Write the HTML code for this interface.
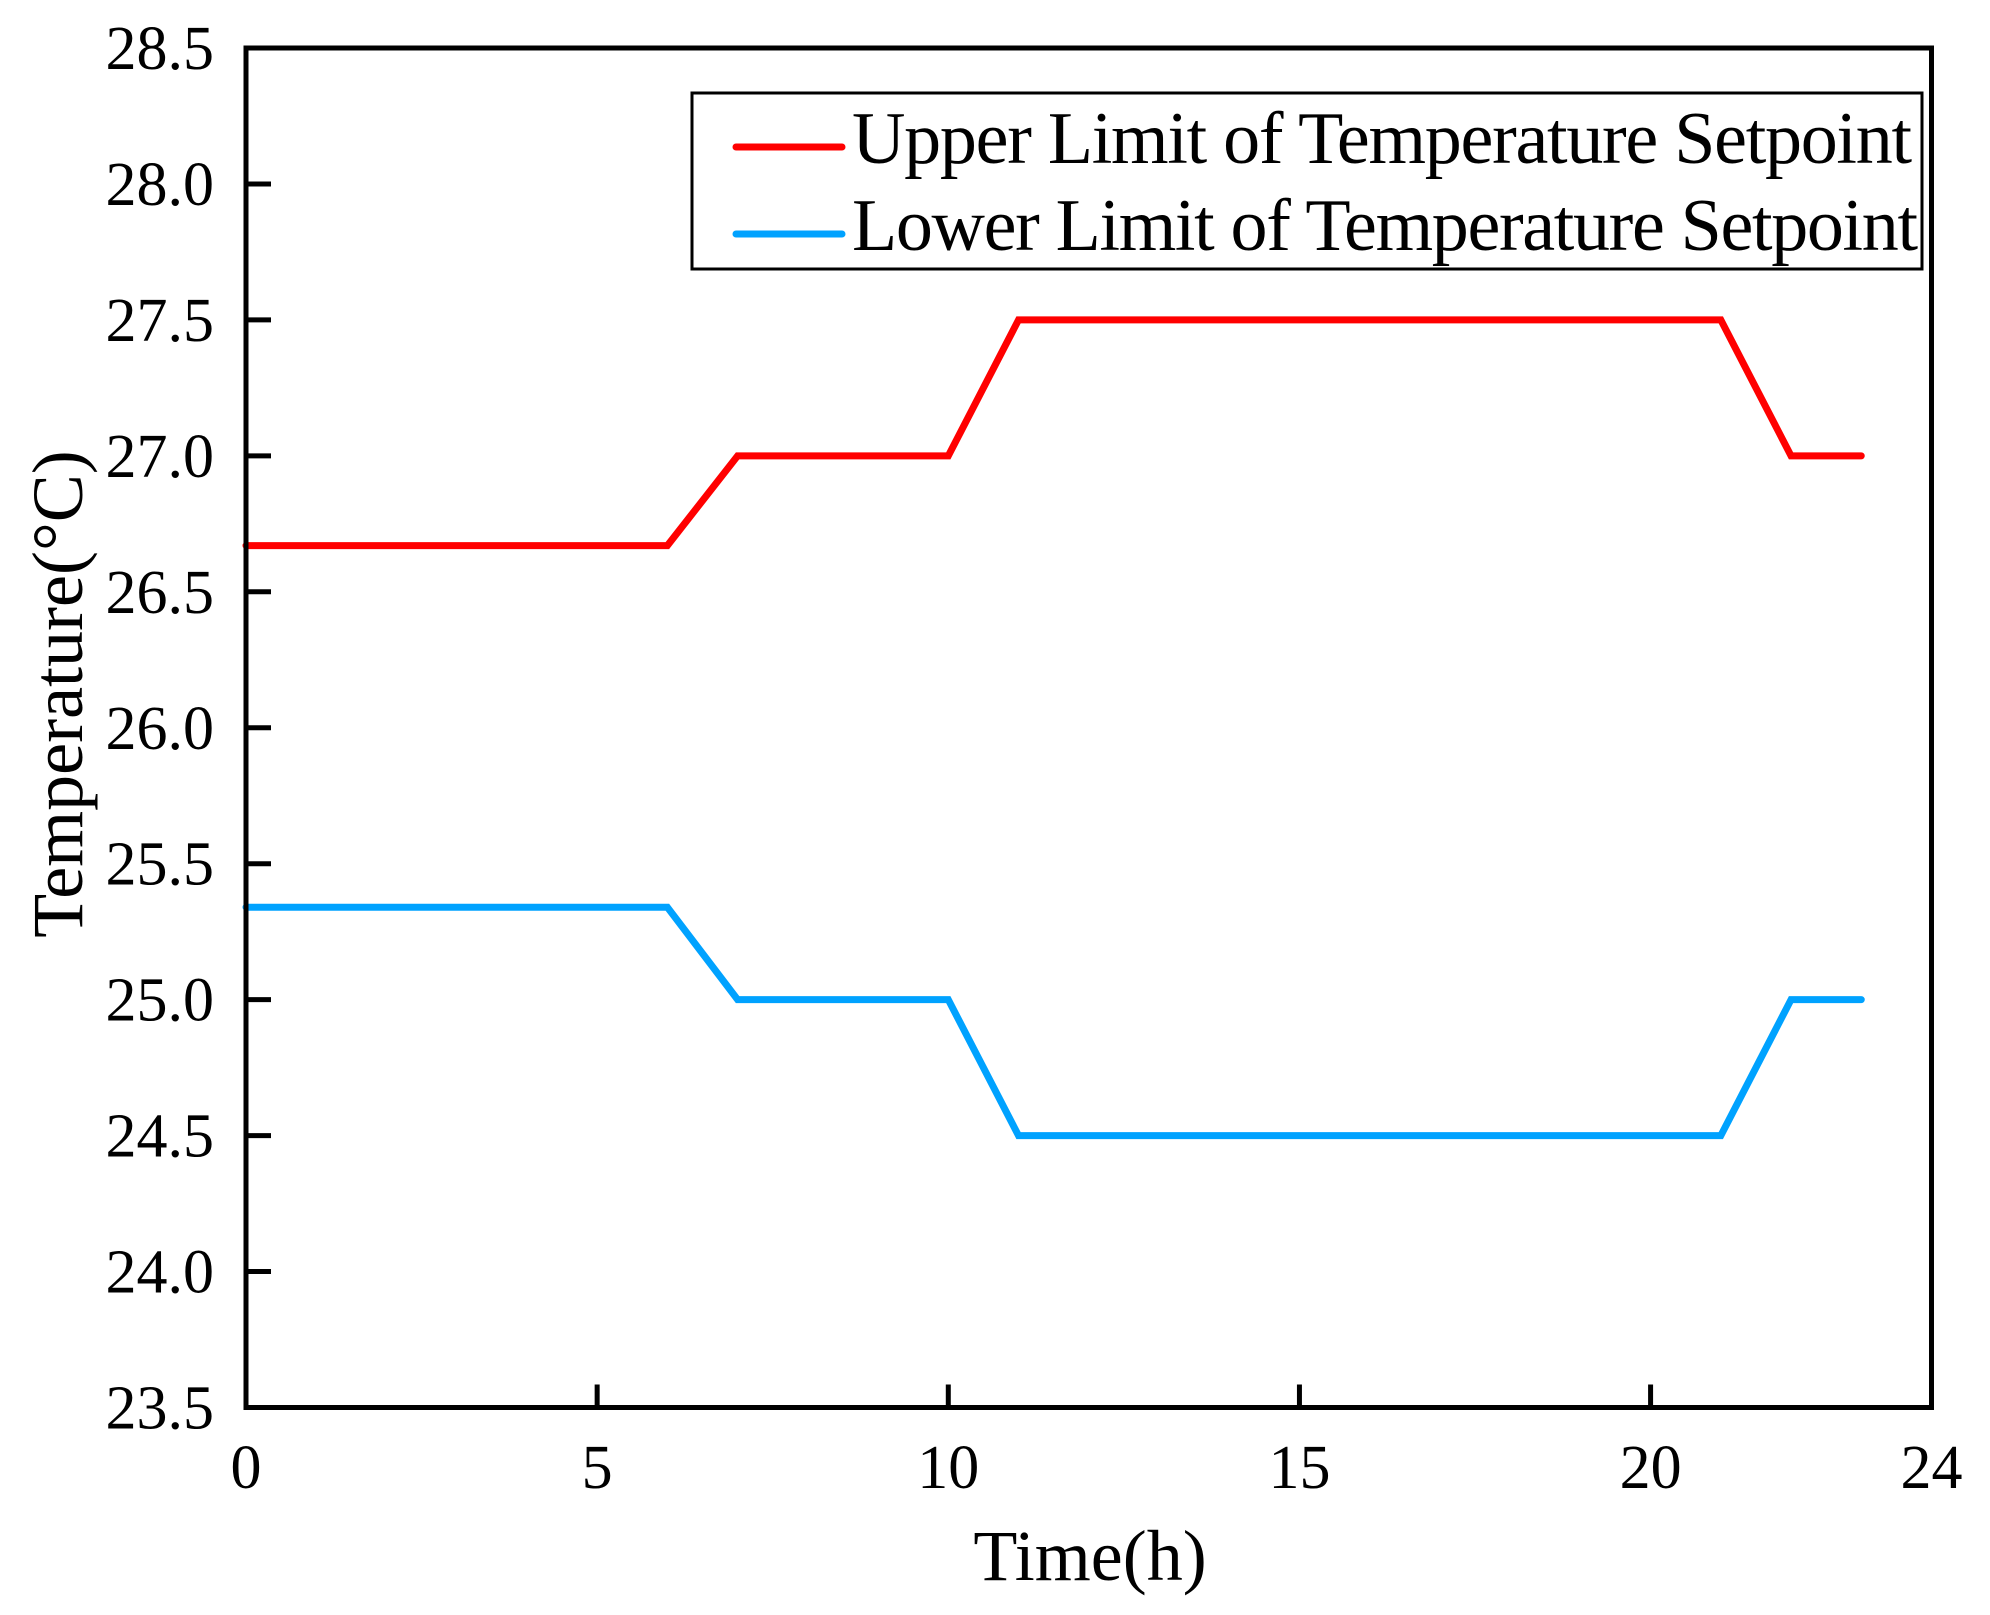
<!DOCTYPE html>
<html><head><meta charset="utf-8"><style>
html,body{margin:0;padding:0;background:#fff;}
svg{display:block;font-family:"Liberation Serif","Times New Roman",serif;}
</style></head><body>
<svg id="chart" width="1990" height="1615" viewBox="0 0 1990 1615">
<g id="ticks"></g>
<g id="series"></g>
<rect x="246" y="48" width="1685.5" height="1359.5" fill="none" stroke="#000" stroke-width="5"/>
<text x="82" y="694" font-size="72" text-anchor="middle" transform="rotate(-90 82 694)">Temperature(°C)</text>
<text x="1090" y="1580" font-size="72" text-anchor="middle">Time(h)</text>
<g>
<rect x="692" y="93" width="1230" height="176" fill="#fff" stroke="#000" stroke-width="3"/>
<line x1="736" y1="147" x2="842" y2="147" stroke="#ff0000" stroke-width="7" stroke-linecap="round"/>
<text x="852" y="163" font-size="74" textLength="1060">Upper Limit of Temperature Setpoint</text>
<line x1="736" y1="234" x2="842" y2="234" stroke="#00a2ff" stroke-width="7" stroke-linecap="round"/>
<text x="852" y="250" font-size="74" textLength="1066">Lower Limit of Temperature Setpoint</text>
</g>
</svg>
<script>
const hours = [0,1,2,3,4,5,6,7,8,9,10,11,12,13,14,15,16,17,18,19,20,21,22,23];
const upperLimit = [26.67,26.67,26.67,26.67,26.67,26.67,26.67,27,27,27,27,27.5,27.5,27.5,27.5,27.5,27.5,27.5,27.5,27.5,27.5,27.5,27,27];
const lowerLimit = [25.34,25.34,25.34,25.34,25.34,25.34,25.34,25,25,25,25,24.5,24.5,24.5,24.5,24.5,24.5,24.5,24.5,24.5,24.5,24.5,25,25];
const xTicks = [0,5,10,15,20,24];
const yTicks = [23.5,24.0,24.5,25.0,25.5,26.0,26.5,27.0,27.5,28.0,28.5];

const X0=246, X1=1931.5, Y0=1407.5, Y1=48;
const xMin=0, xMax=24, yMin=23.5, yMax=28.5;
function sx(v){return X0+(v-xMin)/(xMax-xMin)*(X1-X0);}
function sy(v){return Y0-(v-yMin)/(yMax-yMin)*(Y0-Y1);}
const NS="http://www.w3.org/2000/svg";
const tg=document.getElementById('ticks'), sg=document.getElementById('series');
function mk(tag,attrs,parent){const e=document.createElementNS(NS,tag);for(const k in attrs)e.setAttribute(k,attrs[k]);parent.appendChild(e);return e;}

xTicks.forEach(v=>{
  const l=mk('line',{x1:sx(v),x2:sx(v),y1:Y0,y2:Y0-23,stroke:'#000','stroke-width':5},tg);
  
  
  const t=mk('text',{x:sx(v),y:1488,'font-size':62,'text-anchor':'middle'},tg);
  t.textContent=String(v);
  
  
});
yTicks.forEach(v=>{
  const l=mk('line',{x1:X0,x2:X0+25,y1:sy(v),y2:sy(v),stroke:'#000','stroke-width':5},tg);
  
  
  const t=mk('text',{x:214,y:sy(v)+21,'font-size':62,'text-anchor':'end'},tg);
  t.textContent=v.toFixed(1);
  
  
});
function line(vals,color,name){
  const p=mk('polyline',{points:hours.map((h,i)=>sx(h)+','+sy(vals[i])).join(' '),fill:'none',stroke:color,'stroke-width':7,'stroke-linejoin':'miter','stroke-linecap':'round'},sg);
  
  
}
line(upperLimit,'#ff0000','upper-limit-line');
line(lowerLimit,'#00a2ff','lower-limit-line');
</script>
</body></html>
